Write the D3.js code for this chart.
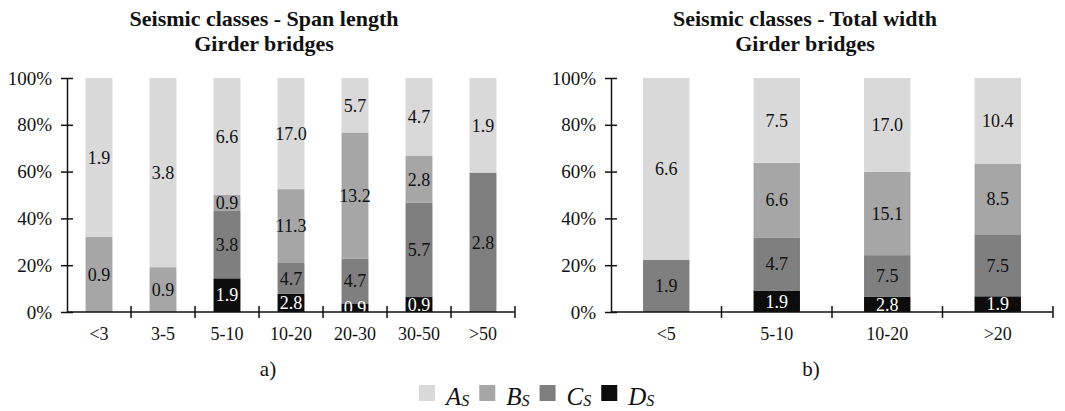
<!DOCTYPE html>
<html>
<head>
<meta charset="utf-8">
<script src="https://cdn.jsdelivr.net/npm/d3@7"></script>
<style>
  html, body { margin: 0; padding: 0; background: #fff; }
  svg { display: block; font-family: "Liberation Serif", "Times New Roman", serif; }
</style>
</head>
<body>
<svg id="chart" width="1065" height="411"></svg>
<script>
// Seismic classes (share of girder bridges, %) by span length and by total width
const classes = ["A", "B", "C", "D"];

const spanCategories = ["<3", "3-5", "5-10", "10-20", "20-30", "30-50", ">50"];
const spanA = [1.9, 3.8, 6.6, 17.0, 5.7, 4.7, 1.9];
const spanB = [0.9, 0.9, 0.9, 11.3, 13.2, 2.8, 0];
const spanC = [0, 0, 3.8, 4.7, 4.7, 5.7, 2.8];
const spanD = [0, 0, 1.9, 2.8, 0.9, 0.9, 0];

const widthCategories = ["<5", "5-10", "10-20", ">20"];
const widthA = [6.6, 7.5, 17.0, 10.4];
const widthB = [0, 6.6, 15.1, 8.5];
const widthC = [1.9, 4.7, 7.5, 7.5];
const widthD = [0, 1.9, 2.8, 1.9];

const yTicks = [0, 0.2, 0.4, 0.6, 0.8, 1.0];

const colors = { A: "#d9d9d9", B: "#a6a6a6", C: "#7f7f7f", D: "#0c0c0c" };
const labelColors = { A: "#111", B: "#111", C: "#111", D: "#fff" };
const serif = "'Liberation Serif', 'Times New Roman', serif";

const svg = d3.select("#chart");

function buildRows(cats, a, b, c, d) {
  return cats.map((cat, i) => ({ cat, A: a[i], B: b[i], C: c[i], D: d[i] }));
}

function drawPanel(opts) {
  const { rows, cats, x0, x1, titleX, title1, title2, tag, tagX } = opts;
  const yTop = 78, yBot = 312;

  const x = d3.scaleBand().domain(cats).range([x0, x1])
    .paddingInner(0.58).paddingOuter(0.29);
  const y = d3.scaleLinear().domain([0, 1]).range([yBot, yTop]);

  // stack bottom-up: D, C, B, A, normalized to 100%
  const stack = d3.stack().keys(["D", "C", "B", "A"]).offset(d3.stackOffsetExpand);
  const series = stack(rows);

  const g = svg.append("g");

  series.forEach(s => {
    const key = s.key;
    g.selectAll(null).data(s).enter().append("rect")
      .attr("x", d => x(d.data.cat))
      .attr("width", x.bandwidth())
      .attr("y", d => y(d[1]))
      .attr("height", d => Math.max(0, y(d[0]) - y(d[1])))
      .attr("fill", colors[key]);
  });

  series.forEach(s => {
    const key = s.key;
    g.selectAll(null).data(s.filter(d => d.data[key] > 0)).enter().append("text")
      .attr("x", d => x(d.data.cat) + x.bandwidth() / 2)
      .attr("y", d => (y(d[0]) + y(d[1])) / 2)
      .attr("dy", "0.35em")
      .attr("text-anchor", "middle")
      .attr("font-size", 18)
      .attr("fill", labelColors[key])
      .text(d => d.data[key].toFixed(1));
  });

  // y axis
  const yAxis = d3.axisLeft(y).tickValues(yTicks).tickFormat(d3.format(".0%"))
    .tickSize(6).tickSizeOuter(0).tickPadding(9);
  const ya = g.append("g").attr("transform", `translate(${x0},0)`).call(yAxis);
  ya.attr("font-family", null);
  ya.select(".domain").attr("stroke", "#111").attr("stroke-width", 1.5);
  ya.selectAll(".tick line").attr("x1", 6).attr("stroke", "#111").attr("stroke-width", 1.5);
  ya.selectAll(".tick text").attr("font-size", 19).attr("fill", "#111")
    .style("font-family", serif);

  // x axis: category labels plus dividers at band boundaries
  const xAxis = d3.axisBottom(x).tickSize(0).tickPadding(15);
  const xa = g.append("g").attr("transform", `translate(0,${yBot})`).call(xAxis);
  xa.attr("font-family", null);
  xa.select(".domain").remove();
  xa.selectAll(".tick text").attr("font-size", 18).attr("fill", "#111")
    .style("font-family", serif);

  g.append("line").attr("x1", x0).attr("x2", x1).attr("y1", yBot).attr("y2", yBot)
    .attr("stroke", "#111").attr("stroke-width", 1.5);
  const step = x.step();
  g.selectAll(null).data(cats).enter().append("line")
    .attr("x1", d => x(d) - x.paddingOuter() * step + step)
    .attr("x2", d => x(d) - x.paddingOuter() * step + step)
    .attr("y1", yBot - 6).attr("y2", yBot + 6)
    .attr("stroke", "#111").attr("stroke-width", 1.5);

  // titles
  svg.append("text").attr("x", titleX).attr("y", 26).attr("text-anchor", "middle")
    .attr("font-size", 22).attr("font-weight", "bold").attr("fill", "#111").text(title1);
  svg.append("text").attr("x", titleX).attr("y", 51).attr("text-anchor", "middle")
    .attr("font-size", 22).attr("font-weight", "bold").attr("fill", "#111").text(title2);

  svg.append("text").attr("x", tagX).attr("y", 376).attr("text-anchor", "middle")
    .attr("font-size", 21).attr("fill", "#111").text(tag);
}

drawPanel({
  rows: buildRows(spanCategories, spanA, spanB, spanC, spanD),
  cats: spanCategories, x0: 67, x1: 515, titleX: 264,
  title1: "Seismic classes - Span length", title2: "Girder bridges",
  tag: "a)", tagX: 268
});

drawPanel({
  rows: buildRows(widthCategories, widthA, widthB, widthC, widthD),
  cats: widthCategories, x0: 611, x1: 1053, titleX: 805,
  title1: "Seismic classes - Total width", title2: "Girder bridges",
  tag: "b)", tagX: 811
});

// legend
const legend = svg.append("g");
let lx = 419;
classes.forEach(k => {
  legend.append("rect").attr("x", lx).attr("y", 385).attr("width", 16).attr("height", 16)
    .attr("fill", colors[k]);
  const t = legend.append("text").attr("x", lx + 27).attr("y", 405)
    .attr("font-size", 25).attr("font-style", "italic").attr("fill", "#111");
  t.append("tspan").text(k);
  t.append("tspan").attr("font-size", 16).attr("dy", 1).text("S");
  lx += 27 + t.node().getComputedTextLength() + 10;
});
</script>
</body>
</html>
